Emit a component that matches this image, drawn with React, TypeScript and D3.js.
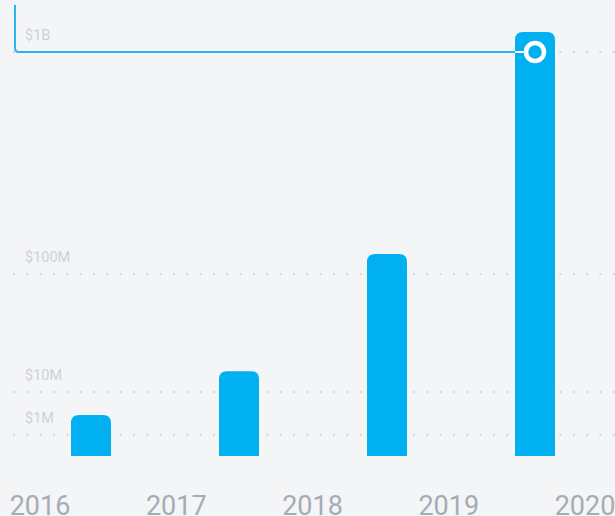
import React from "react";
import * as d3 from "d3";

const categories = ["2016", "2017", "2018", "2019"];
const values = [2.9e6, 1.5e7, 1.23e8, 1.23e9];
const yearLabels = ["2016", "2017", "2018", "2019", "2020"];
const tickValues = [1e6, 1e7, 1e8, 1e9];
const tickLabels = ["$1M", "$10M", "$100M", "$1B"];
const markerValue = 1e9;
const markerIndex = 3;

const W = 615;
const H = 516;
const BASE = 456;
const BAR = "#00b0f0";
const BG = "#f4f5f7";

export default function App() {
  const y = d3.scaleLog().domain(tickValues).range([435, 392, 274, 52]);
  const x = d3.scaleBand<string>().domain(categories).range([17, 609]).paddingInner(0.73).paddingOuter(0.365);
  const xl = d3.scalePoint<string>().domain(yearLabels).range([40, 585]);
  const bw = x.bandwidth();
  const r = 8;

  const barPath = (xs: number, yt: number) =>
    `M${xs},${BASE}V${yt + r}Q${xs},${yt} ${xs + r},${yt}H${xs + bw - r}Q${xs + bw},${yt} ${xs + bw},${yt + r}V${BASE}Z`;

  const mCat = categories[markerIndex];
  const mx = (x(mCat) as number) + bw / 2;
  const my = y(markerValue);
  const cr = 9;

  return (
    <div style={{ position: "fixed", left: 0, top: 0, width: W, height: H, background: BG }}>
      <svg width={W} height={H} style={{ display: "block" }}>
        <rect width={W} height={H} fill={BG} />
        {tickValues.map((t, i) => (
          <g key={t}>
            <line x1={14} x2={W} y1={y(t)} y2={y(t)} stroke="#d6d9de" strokeWidth={2.4}
              strokeLinecap="round" strokeDasharray="0 13.33" />
            <text x={25} y={y(t) - 12} fontFamily="Roboto, sans-serif" fontSize={14.5} fill="#cdd1d7">
              {tickLabels[i]}
            </text>
          </g>
        ))}
        {categories.map((c, i) => (
          <path key={c} d={barPath(x(c) as number, y(values[i]))} fill={BAR} />
        ))}
        <path d={`M15,5V${my - 4}Q15,${my} 19,${my}H${mx - cr}`} fill="none" stroke="#2db3f0" strokeWidth={2} />
        <line x1={x(mCat) as number} x2={mx - cr} y1={my} y2={my} stroke="#ffffff" strokeWidth={2} />
        <circle cx={mx} cy={my} r={cr} fill={BAR} stroke="#ffffff" strokeWidth={4.5} />
        {yearLabels.map((l) => (
          <text key={l} x={xl(l)} y={515} textAnchor="middle" fontFamily="Roboto, sans-serif"
            fontSize={27} fill="#a6acb4">
            {l}
          </text>
        ))}
      </svg>
    </div>
  );
}
